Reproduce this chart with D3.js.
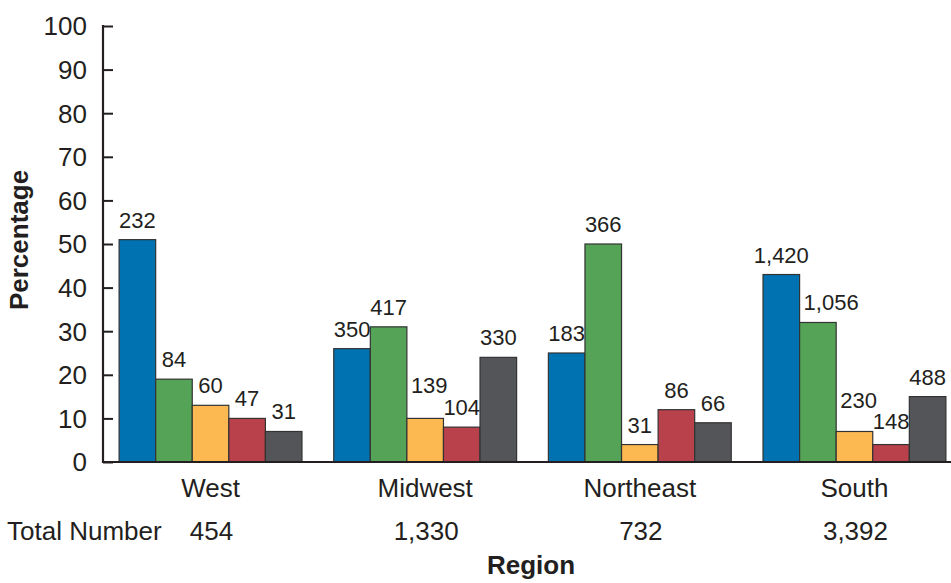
<!DOCTYPE html>
<html><head><meta charset="utf-8">
<script src="https://cdn.jsdelivr.net/npm/d3@7"></script>
<style>body{margin:0;background:#fff}svg{display:block;font-family:"Liberation Sans",Arial,sans-serif}</style>
</head><body><svg id="c" width="951" height="583"></svg>
<script>
const regions = ["West", "Midwest", "Northeast", "South"];
const totals = ["454", "1,330", "732", "3,392"];
const seriesKeys = ["s1", "s2", "s3", "s4", "s5"];
const seriesColors = ["#0072b1", "#55a356", "#fdb951", "#b9414c", "#545559"];
// percentage per region (bars)
const pctWest = [51, 19, 13, 10, 7];
const pctMidwest = [26, 31, 10, 8, 24];
const pctNortheast = [25, 50, 4, 12, 9];
const pctSouth = [43, 32, 7, 4, 15];
// counts per region (labels)
const cntWest = ["232", "84", "60", "47", "31"];
const cntMidwest = ["350", "417", "139", "104", "330"];
const cntNortheast = ["183", "366", "31", "86", "66"];
const cntSouth = ["1,420", "1,056", "230", "148", "488"];
const yTicks = [0, 10, 20, 30, 40, 50, 60, 70, 80, 90, 100];

const pcts = [pctWest, pctMidwest, pctNortheast, pctSouth];
const cnts = [cntWest, cntMidwest, cntNortheast, cntSouth];

const ink = "#231f20";
const svg = d3.select("#c");
const x0 = d3.scaleBand().domain(regions).range([103, 962]).paddingInner(0.148).paddingOuter(0.075);
const x1 = d3.scaleBand().domain(seriesKeys).range([0, x0.bandwidth()]);
const y = d3.scaleLinear().domain([0, 100]).range([462, 26]);

// y axis
const ya = svg.append("g").attr("transform", "translate(103,0)")
  .call(d3.axisRight(y).tickValues(yTicks).tickSize(10).tickFormat(""));
ya.select(".domain").remove();
ya.selectAll(".tick line").attr("stroke", ink).attr("stroke-width", 2);
svg.append("line").attr("x1", 103).attr("x2", 103).attr("y1", y(100) - 1).attr("y2", y(0) + 1)
  .attr("stroke", ink).attr("stroke-width", 2.2);
svg.append("g").selectAll("text").data(yTicks).join("text")
  .attr("x", 87).attr("y", d => y(d)).attr("dy", "0.36em").attr("text-anchor", "end")
  .attr("font-size", 26).attr("fill", ink).text(d => d);

// bars
const LFS = 22, CAP = 0.72 * LFS;
const groups = svg.append("g").selectAll("g").data(regions).join("g")
  .attr("transform", d => `translate(${x0(d)},0)`);
groups.each(function(r, gi) {
  const g = d3.select(this);
  const data = seriesKeys.map((k, i) => ({k, i, v: pcts[gi][i], c: cnts[gi][i]}));
  g.selectAll("rect").data(data).join("rect")
    .attr("x", d => x1(d.k)).attr("width", x1.bandwidth())
    .attr("y", d => y(d.v)).attr("height", d => y(0) - y(d.v))
    .attr("fill", d => seriesColors[d.i]).attr("stroke", "#333").attr("stroke-width", 1.2);
  const labels = g.selectAll("text").data(data).join("text")
    .attr("text-anchor", "start").attr("font-size", LFS).attr("fill", ink)
    .text(d => d.c);
  const nodes = labels.nodes();
  // initial boxes: centered above bar
  const boxes = data.map((d, i) => {
    const w = nodes[i].getComputedTextLength();
    const cx = x1(d.k) + x1.bandwidth() / 2;
    return {x: cx - w / 2, w, base: y(d.v) - 12};
  });
  // avoid left neighbouring bar: shift right or lift, whichever is smaller
  for (let i = 1; i < data.length; i++) {
    const b = boxes[i];
    const barR = x1(data[i - 1].k) + x1.bandwidth();
    const barT = y(data[i - 1].v);
    if (b.x < barR + 4 && b.base > barT) {
      const shift = barR + 4 - b.x, lift = b.base - (barT - 2);
      if (lift <= shift) b.base -= lift; else b.x += shift;
    }
  }
  // avoid overlapping the label to the right: lift above it
  for (let i = data.length - 2; i >= 0; i--) {
    const a = boxes[i], b = boxes[i + 1];
    const h = a.x + a.w + 2 > b.x && b.x + b.w + 2 > a.x;
    const v = a.base > b.base - CAP - 2 && b.base > a.base - CAP - 2;
    if (h && v) a.base = b.base - CAP - 6;
  }
  labels.attr("x", (d, i) => boxes[i].x).attr("y", (d, i) => boxes[i].base);
});

// x baseline
svg.append("line").attr("x1", 102).attr("x2", 951).attr("y1", y(0)).attr("y2", y(0))
  .attr("stroke", ink).attr("stroke-width", 2.2);

// category labels
svg.append("g").selectAll("text").data(regions).join("text")
  .attr("x", d => x0(d) + x0.bandwidth() / 2).attr("y", 497)
  .attr("text-anchor", "middle").attr("font-size", 26).attr("fill", ink).text(d => d);
svg.append("text").attr("x", 7).attr("y", 540).attr("font-size", 26).attr("fill", ink).text("Total Number");
svg.append("g").selectAll("text").data(totals).join("text")
  .attr("x", (d, i) => x0(regions[i]) + x0.bandwidth() / 2 + 1).attr("y", 540)
  .attr("text-anchor", "middle").attr("font-size", 26).attr("fill", ink).text(d => d);
svg.append("text").attr("x", 531).attr("y", 574).attr("text-anchor", "middle")
  .attr("font-size", 26).attr("font-weight", "bold").attr("fill", ink).text("Region");
svg.append("text").attr("transform", "translate(28,240) rotate(-90)").attr("text-anchor", "middle")
  .attr("font-size", 26).attr("font-weight", "bold").attr("fill", ink).text("Percentage");
</script></body></html>
